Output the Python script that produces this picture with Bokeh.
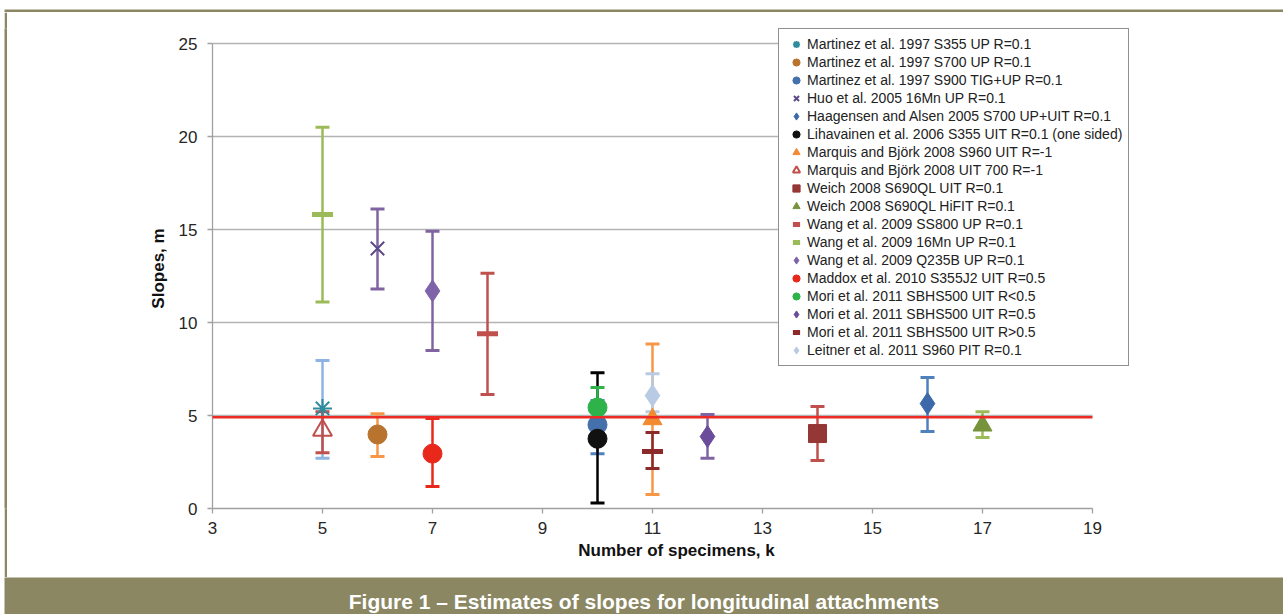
from bokeh.plotting import figure
from bokeh.layouts import column, row
from bokeh.models import ColumnDataSource, Whisker, TeeHead, Label, FixedTicker, Spacer
from bokeh.embed import file_html
from bokeh.resources import INLINE

# ---------------- data ----------------
LABELS = [
    "Martinez et al. 1997 S355 UP R=0.1",
    "Martinez et al. 1997 S700 UP R=0.1",
    "Martinez et al. 1997 S900 TIG+UP R=0.1",
    "Huo et al. 2005 16Mn UP R=0.1",
    "Haagensen and Alsen 2005 S700 UP+UIT R=0.1",
    "Lihavainen et al. 2006 S355 UIT R=0.1 (one sided)",
    "Marquis and Björk 2008 S960 UIT R=-1",
    "Marquis and Björk 2008 UIT 700 R=-1",
    "Weich 2008 S690QL UIT R=0.1",
    "Weich 2008 S690QL HiFIT R=0.1",
    "Wang et al. 2009 SS800 UP R=0.1",
    "Wang et al. 2009 16Mn UP R=0.1",
    "Wang et al. 2009 Q235B UP R=0.1",
    "Maddox et al. 2010 S355J2 UIT R=0.5",
    "Mori et al. 2011 SBHS500 UIT R<0.5",
    "Mori et al. 2011 SBHS500 UIT R=0.5",
    "Mori et al. 2011 SBHS500 UIT R>0.5",
    "Leitner et al. 2011 S960 PIT R=0.1",
]
K = [5, 6, 10, 6, 16, 10, 11, 5, 14, 17, 8, 5, 7, 7, 10, 12, 11, 11]
SLOPE = [5.38, 3.98, 4.50, 13.98, 5.64, 3.75, 4.80, 4.20, 4.03, 4.46,
         9.40, 15.80, 11.70, 2.95, 5.43, 3.87, 3.07, 6.07]
UPPER = [7.96, 5.10, 5.80, 16.10, 7.04, 7.30, 8.85, 5.20, 5.48, 5.20,
         12.65, 20.50, 14.90, 4.84, 6.50, 5.05, 4.08, 7.25]
LOWER = [2.70, 2.80, 2.95, 11.80, 4.14, 0.30, 0.75, 3.00, 2.58, 3.82,
         6.13, 11.10, 8.50, 1.18, 4.60, 2.70, 2.15, 5.20]
X_TICKS = [3, 5, 7, 9, 11, 13, 15, 17, 19]
Y_TICKS = [0, 5, 10, 15, 20, 25]
REF_SLOPE = 4.9
X_TITLE = "Number of specimens, k"
Y_TITLE = "Slopes, m"
CAPTION = "Figure 1 \u2013 Estimates of slopes for longitudinal attachments"

# ---------------- styles ----------------
MARKERS = ["asterisk", "circle", "circle", "x", "diamond", "circle", "triangle", "triangle",
           "square", "triangle", "dash", "dash", "diamond", "circle", "circle", "diamond",
           "dash", "diamond"]
MCOL = ["#2f8c9c", "#b8732f", "#4470ab", "#5c4a86", "#3c69a9", "#111111", "#f28a30", "#c0504d",
        "#953735", "#77933c", "#c0504d", "#9bbb59", "#7f63a8", "#e8281a", "#2db34a", "#6a4c9a",
        "#8c2a2a", "#b9cbe4"]
BCOL = ["#8db4e2", "#f79646", "#4f81bd", "#8064a2", "#4f81bd", "#000000", "#f79646", "#c0504d",
        "#c0504d", "#9bbb59", "#c0504d", "#9bbb59", "#8064a2", "#e8281a", "#2db34a", "#8064a2",
        "#8c2a2a", "#b9cbe4"]
OLIVE = "#8b8763"
FONT = "Liberation Sans"

W, H = 1283, 614
TOP_H = 12          # top strip (white + olive line)
LEFT_W = 7          # left strip (white + olive line)
CAP_H = 37          # caption bar
MAIN_W = W - LEFT_W
MAIN_H = H - TOP_H - CAP_H

# axis pixel geometry in page coordinates
AX_L, AX_R, AX_T, AX_B = 212, 1092, 43, 508
FR_R, FR_T = 1140, 28   # frame extended to host the legend
px_x = (AX_R - AX_L) / (X_TICKS[-1] - X_TICKS[0])
px_y = (AX_B - AX_T) / (Y_TICKS[-1] - Y_TICKS[0])
x_end = X_TICKS[0] + (FR_R - AX_L) / px_x
y_end = Y_TICKS[0] + (AX_B - FR_T) / px_y


def strip(w, h, bl, bt, br, bb, border="white"):
    f = figure(width=w, height=h, output_backend="svg", toolbar_location=None,
               x_axis_location=None, y_axis_location=None,
               min_border_left=bl, min_border_top=bt, min_border_right=br, min_border_bottom=bb,
               x_range=(0, 1), y_range=(0, 1))
    f.grid.visible = False
    f.outline_line_color = None
    f.background_fill_color = OLIVE
    f.border_fill_color = border
    return f


top = strip(W, TOP_H, 4, 9, 0, 0)
left_line = strip(3, MAIN_H, 0, 0, 0, 0, border=OLIVE)
cap = strip(W, CAP_H, 4, 0, 0, 0)
cap.add_layout(Label(x=0.5, y=0.36, text=CAPTION, text_align="center", text_baseline="middle",
                     text_color="white", text_font=FONT, text_font_style="bold",
                     text_font_size="21px"))

p = figure(width=MAIN_W, height=MAIN_H, x_range=(X_TICKS[0], x_end), y_range=(Y_TICKS[0], y_end),
           output_backend="svg", toolbar_location=None,
           min_border_left=AX_L - LEFT_W, min_border_right=W - FR_R,
           min_border_top=FR_T - TOP_H, min_border_bottom=TOP_H + MAIN_H - AX_B)
p.outline_line_color = None
p.background_fill_color = "white"
p.border_fill_color = "white"
p.grid.visible = False

p.xaxis.ticker = FixedTicker(ticks=X_TICKS)
p.yaxis.ticker = FixedTicker(ticks=Y_TICKS)
p.xaxis.bounds = (X_TICKS[0], X_TICKS[-1])
p.yaxis.bounds = (Y_TICKS[0], Y_TICKS[-1])
for ax in (p.xaxis, p.yaxis):
    ax.axis_line_color = "#a0a0a0"
    ax.axis_line_width = 1.3
    ax.major_tick_line_color = "#a0a0a0"
    ax.major_tick_line_width = 1.3
    ax.major_tick_out = 5
    ax.major_tick_in = 0
    ax.minor_tick_line_color = None
    ax.major_label_text_font = FONT
    ax.major_label_text_font_size = "17px"
    ax.major_label_text_color = "#262626"
    ax.axis_label_text_font = FONT
    ax.axis_label_text_font_size = "17px"
    ax.axis_label_text_font_style = "bold"
    ax.axis_label_text_color = "#111111"
p.xaxis.axis_label = X_TITLE
p.yaxis.axis_label = Y_TITLE
p.xaxis.major_label_standoff = 8
p.xaxis.axis_label_standoff = 4
p.yaxis.major_label_standoff = 10
p.yaxis.axis_label_standoff = 8

# horizontal gridlines limited to the axis extent
gsrc = ColumnDataSource(dict(y=Y_TICKS[1:], x0=[X_TICKS[0]] * (len(Y_TICKS) - 1),
                             x1=[X_TICKS[-1]] * (len(Y_TICKS) - 1)))
g = p.segment(x0="x0", x1="x1", y0="y", y1="y", source=gsrc, line_color="#b4b4b4", line_width=1.3)
g.level = "underlay"

# error bars (under markers)
for i in range(len(LABELS)):
    src = ColumnDataSource(dict(x=[K[i]], y=[SLOPE[i]], lo=[LOWER[i]], hi=[UPPER[i]]))
    wh = Whisker(base="x", upper="hi", lower="lo", source=src, line_color=BCOL[i], line_width=2.5,
                 upper_head=TeeHead(size=14, line_color=BCOL[i], line_width=3),
                 lower_head=TeeHead(size=14, line_color=BCOL[i], line_width=3),
                 level="underlay")
    p.add_layout(wh)

# markers
for i in range(len(LABELS)):
    src = ColumnDataSource(dict(x=[K[i]], y=[SLOPE[i]]))
    m = MARKERS[i]
    kw = dict(marker=m, line_color=MCOL[i], fill_color=MCOL[i], legend_label=LABELS[i])
    if m == "circle":
        kw.update(size=19, line_width=1)
    elif m == "diamond":
        kw.update(size=22, line_width=1)
    elif m == "triangle":
        kw.update(size=19, line_width=1)
    elif m == "square":
        kw.update(size=18, line_width=1)
    elif m == "dash":
        kw.update(size=21, line_width=5)
    else:
        kw.update(size=19, line_width=2)
    if i == 7:  # hollow triangle
        kw.update(fill_color=None, line_width=2)
    p.scatter("x", "y", source=src, **kw)

# reference line
rsrc = ColumnDataSource(dict(x=[X_TICKS[0], X_TICKS[-1]], y=[REF_SLOPE, REF_SLOPE]))
r = p.line("x", "y", source=rsrc, line_color="#ee2a24", line_width=2.5)
r.level = "overlay"

lg = p.legend[0]
lg.location = (778 - AX_L, AX_B - 366)
lg.padding = 6
lg.margin = 0
lg.spacing = 0
lg.glyph_width = 22
lg.glyph_height = 18
lg.label_height = 18
lg.label_standoff = 0
lg.label_text_font = FONT
lg.label_text_font_size = "14px"
lg.label_text_color = "#222222"
lg.label_text_baseline = "middle"
lg.border_line_color = "#222222"
lg.border_line_width = 1.5
lg.background_fill_color = "white"
lg.background_fill_alpha = 1
lg.level = "overlay"

layout = column(top, row(Spacer(width=4, height=MAIN_H), left_line, p), cap)
open("out.html", "w").write(file_html(layout, INLINE))
